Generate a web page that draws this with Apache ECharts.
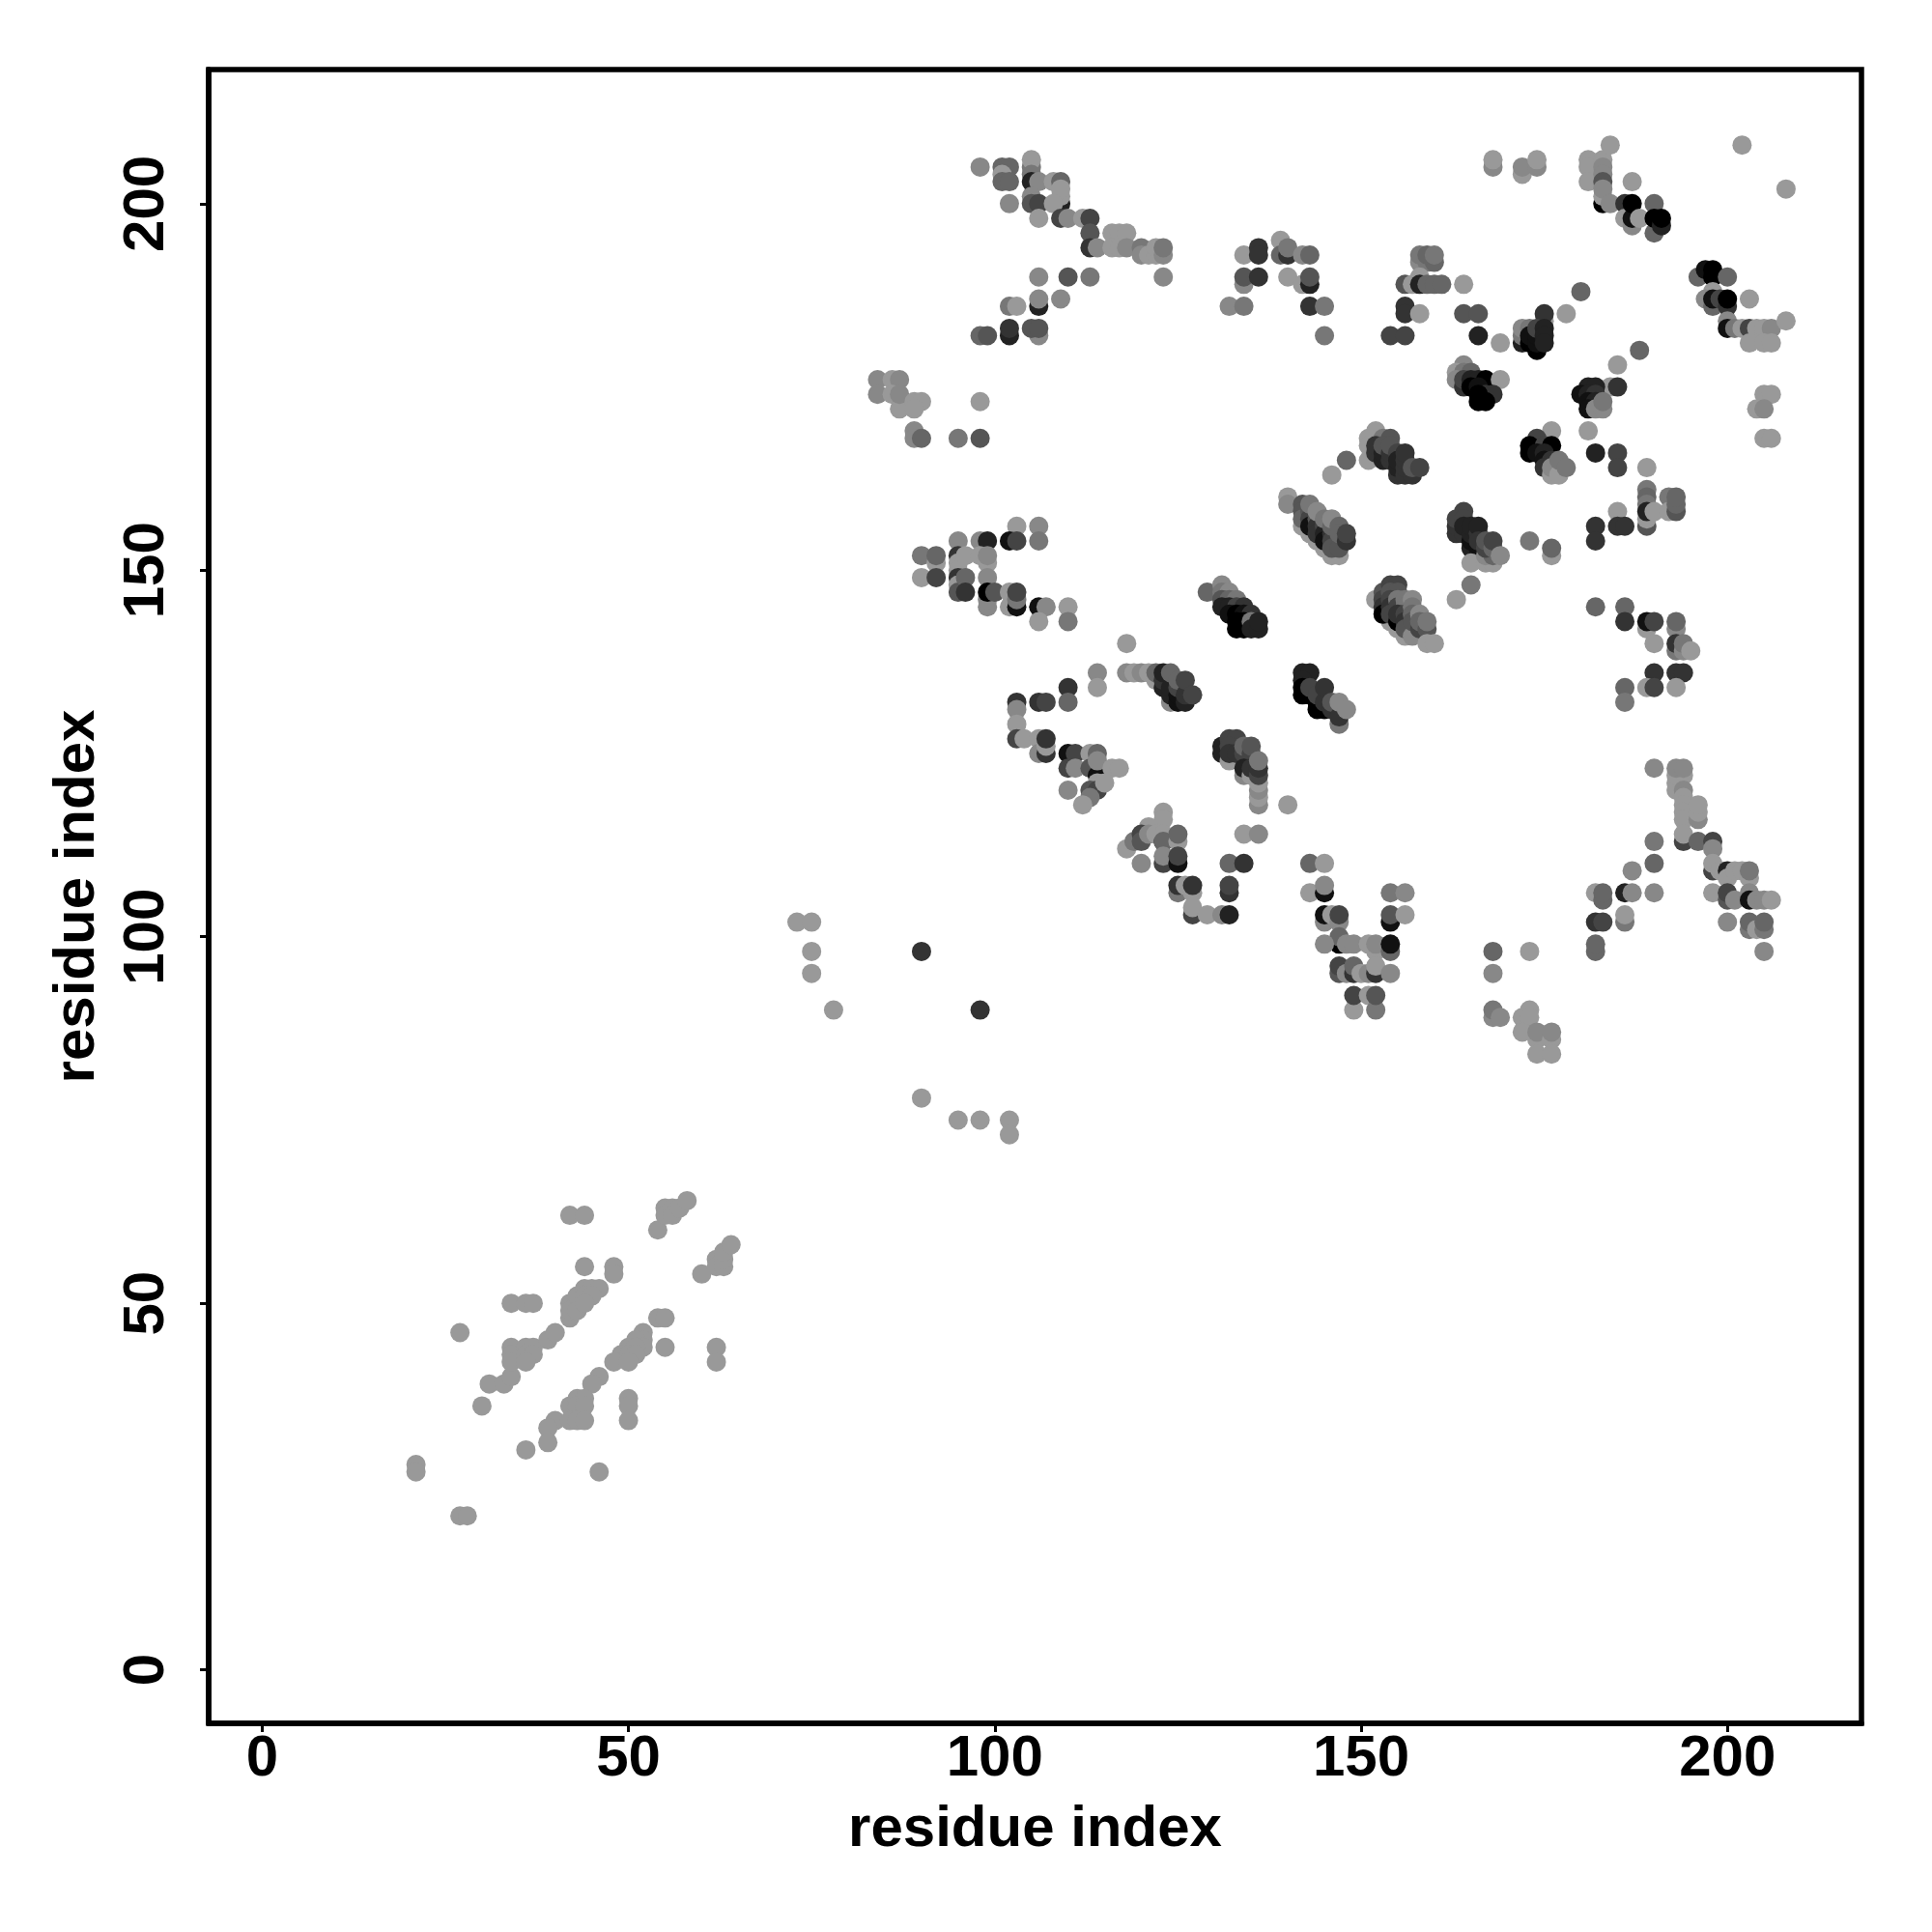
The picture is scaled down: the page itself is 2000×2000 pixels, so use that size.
<!DOCTYPE html>
<html><head><meta charset="utf-8">
<style>html,body{margin:0;padding:0;background:#fff}#c{width:2000px;height:2000px}</style>
<script src="https://cdn.jsdelivr.net/npm/echarts@6/dist/echarts.min.js"></script>
</head><body><div id="c"></div>
<script>
// each contact: [residue i, residue j, darkness level 0 (black) .. 9 (light grey)]
const tickLabels = [0, 50, 100, 150, 200];
const axisName = 'residue index';
const lowSheet = [[21,28,9],[21,27,9],[27,21,9],[28,21,9],[27,46,9],[30,36,9],[31,39,9],[33,39,9],[34,40,9],[34,50,9],[36,50,9],[37,50,9],
[34,44,9],[34,43,9],[34,42,9],[36,44,9],[37,44,9],[36,43,9],[37,43,9],[36,42,9],[39,45,9],[40,46,9],[42,48,9],[42,50,9],[43,50,9],[42,49,9],[43,51,9],[44,52,9],[45,52,9],[46,52,9],[44,51,9],[45,51,9],[43,49,9],[44,50,9],[44,55,9],[48,55,9],[48,54,9],[42,62,9],[44,62,9],
[54,60,9],[55,63,9],[55,62,9],[56,63,9],[56,62,9],[57,63,9],[58,64,9],[60,54,9],[62,56,9],[62,55,9],[63,55,9],[63,56,9],[63,57,9],[64,58,9],[54,48,9],[55,48,9],[55,44,9],[62,44,9],[62,42,9],
[52,46,9],[52,45,9],[51,45,9],[52,44,9],[50,44,9],[51,44,9],[49,43,9],[50,43,9],[51,43,9],[48,42,9],[50,42,9],[46,40,9],[45,39,9],[42,36,9],[43,37,9],[44,37,9],[43,36,9],[44,36,9],[40,34,9],[39,33,9],[39,31,9],[42,34,9],[43,34,9],[44,34,9],[36,30,9],[46,27,9],[50,37,9],[50,36,9],[50,34,9]];
const isolated = [[73,102,9],[75,102,9],[75,98,9],[75,95,9],[78,90,9],[90,98,3],[98,90,3],[90,78,9],[95,75,9],[98,75,9],[102,75,9],[102,73,9]];
const topLeft = [[98,205,8],[101,205,6],[102,205,6],[101,204,9],[101,203,6],[102,203,6],[105,205,7],[105,206,9],[105,204,7],[105,203,2],[106,203,8],[105,201,8],[105,200,5],[106,200,4],[102,200,8],[106,198,9],
[108,203,9],[109,203,6],[109,200,2],[109,201,9],[109,202,9],[108,200,9],[109,198,4],[110,198,8],[112,198,9],[113,198,4],[113,196,5],[113,194,3],[114,194,8],[116,196,9],[117,196,9],[118,196,9],[116,194,9],[117,194,9],[118,194,8],[120,194,7],[120,193,8],[121,193,9],[122,193,9],[122,194,9],[123,193,8],[123,194,7],[123,190,8],
[106,190,8],[110,190,5],[113,190,7],[109,187,8],[106,186,2],[106,187,8],[102,186,7],[103,186,9],[102,182,2],[102,183,3],[98,182,6],[99,182,5],[106,182,8],[105,183,5],[106,183,5],
[84,176,8],[84,174,8],[86,176,9],[87,176,8],[86,174,9],[87,172,9],[87,174,8],[89,173,9],[90,173,9],[89,172,9],[98,173,9],[89,169,8],[89,168,8],[90,168,6],[95,168,7],[98,168,5]];
const topMiddle = [[132,186,8],[134,186,7],[134,193,9],[136,194,3],[136,193,3],[134,189,8],[134,190,5],[136,190,3],[139,195,9],[139,193,6],[140,193,3],[140,194,7],[142,193,8],[143,193,6],[140,190,9],[142,189,9],[143,189,2],[143,190,5],[143,186,3],[145,186,7],[145,182,7],
[158,192,8],[159,192,7],[160,192,6],[158,193,7],[159,193,6],[160,193,7],[158,190,9],[156,189,5],[157,189,9],[158,189,2],[159,189,6],[160,189,6],[161,189,6],[164,189,9],[156,186,3],[156,185,3],[158,185,9],[164,185,5],[166,185,5],[154,182,4],[156,182,4],[166,182,2],[169,181,9],[180,188,6],[178,185,9],
[175,184,9],[175,185,3],[172,181,2],[172,182,7],[172,183,8],[173,183,7],[173,181,0],[174,180,0],[173,182,1],[174,181,1],[174,182,1],[174,183,4],[175,183,2],[175,182,2],[175,181,2]];
const topRight = [[168,205,8],[168,206,9],[172,204,9],[172,205,8],[174,205,8],[174,206,9],[181,206,9],[181,205,9],[181,203,9],[183,206,9],[183,205,8],[183,204,8],[183,203,5],[183,200,0],[183,201,9],[183,202,8],[184,200,8],[184,208,9],[187,203,9],
[186,200,3],[186,198,9],[187,197,8],[187,198,1],[187,200,0],[188,198,9],[190,196,6],[190,200,6],[190,198,0],[191,197,2],[191,198,0],[202,208,9],[208,202,9],
[196,190,6],[197,191,1],[198,191,0],[198,190,0],[200,190,6],[198,188,9],[197,187,8],[198,186,6],[198,187,1],[199,187,4],[200,186,3],[200,187,0],[203,187,9],
[200,184,8],[200,183,1],[201,183,7],[202,183,9],[203,183,4],[204,183,9],[205,183,9],[206,183,8],[208,184,9],[203,181,9],[205,181,9],[206,181,9],[205,174,9],[206,174,9],[204,172,9],[205,172,8],[205,168,9],[206,168,9]];
const blockA = [[164,178,8],[163,177,9],[164,177,7],[165,177,6],[163,176,8],[164,175,3],[164,176,4],[165,176,2],[166,176,2],[167,176,0],[169,176,9],[165,175,0],[166,175,1],[167,174,3],[168,174,3],[166,174,0],[166,173,0],[167,173,0]];
const blockB = [[185,178,9],[188,180,6],[184,175,9],[185,175,3],[181,175,2],[182,175,2],[180,174,1],[181,174,2],[182,174,3],[181,173,1],[182,173,2],[181,172,1],[182,172,8],[183,172,8],[183,173,7]];
const blockC = [[176,169,9],[174,168,4],[173,167,0],[175,167,4],[176,167,0],[173,166,0],[174,166,1],[175,166,2],[175,165,1],[176,165,3],[175,164,3],[176,163,9],[176,164,8],[177,163,9],[177,165,7],[178,164,7],[181,169,9],[182,166,2],[185,166,4],[185,164,4],[189,164,9]];
const rightMiddle = [[189,161,7],[189,160,6],[189,159,7],[189,156,5],[189,157,9],[189,158,2],[190,158,9],[192,160,7],[192,158,9],[193,158,5],[193,159,6],[193,160,6],[185,158,9],[182,156,3],[182,154,3],[185,156,3],[186,156,3],[173,154,7],[176,152,9],[176,153,6],
[182,145,6],[186,145,6],[186,143,3],[189,142,9],[189,143,1],[190,143,4],[190,140,9],[193,142,8],[193,143,6],[193,139,7],[193,140,3],[194,139,8],[194,140,7],[195,139,9],
[190,136,3],[193,136,3],[194,136,3],[189,134,9],[190,134,4],[193,134,9],[186,134,6],[186,132,7]];
const rightLower = [[190,123,8],[193,121,9],[193,120,9],[193,122,9],[194,122,9],[193,123,8],[194,123,8],[194,120,8],[194,119,9],[194,118,9],[194,117,9],[194,116,9],[196,116,8],[196,117,9],[196,118,9],[194,113,4],[194,114,9],[190,113,7],[196,113,6],[198,113,4],[198,112,8],
[198,109,4],[198,110,9],[199,109,9],[200,109,2],[200,108,9],[201,109,9],[202,109,9],[203,108,9],[203,109,7],[198,106,9],[200,105,5],[200,106,4],[201,105,8],[203,106,8],[203,105,1],[204,105,8],[205,105,8],[206,105,9],
[200,102,8],[203,101,7],[203,102,6],[204,101,9],[205,101,7],[205,102,6],[205,98,8],[190,110,6],[187,109,8],[190,106,8],[186,106,2],[187,106,8],[182,106,9],[183,105,6],[183,106,6],[182,102,3],[183,102,4],[186,102,7],[186,103,9],[182,98,6],[182,99,6],
[168,98,6],[173,98,9],[168,95,8],[168,89,8],[168,90,7],[169,89,8],[173,90,9],[172,89,9],[173,89,9],[172,87,9],[174,86,9],[174,87,8],[176,86,9],[176,87,8],[174,84,9],[176,84,9]];
const vShape = [[140,118,9],[143,110,6],[145,110,9],[143,106,9],[145,106,1],[145,107,8],[145,102,8],[145,103,1],[146,103,9],[147,102,8],[147,103,4],[147,99,0],[147,100,6],[145,99,8],[148,99,8],[149,99,8],[151,99,9],[152,98,9],[152,99,8],[154,98,6],[154,99,1],
[147,95,5],[147,96,4],[148,95,8],[149,95,3],[149,96,6],[150,95,9],[151,95,8],[152,95,3],[152,96,9],[154,95,8],[149,90,9],[149,92,4],[151,92,9],[152,90,7],[152,92,5],[154,106,7],[156,106,8],[154,102,1],[154,103,5],[156,103,9]];
const centreLow = [[123,117,9],[123,116,9],[121,115,9],[118,112,9],[119,113,7],[120,114,4],[120,113,5],[121,114,8],[122,114,9],[123,113,2],[123,114,9],[123,113,6],[125,113,9],[125,114,6],[120,110,8],[123,110,4],[123,111,8],[125,110,1],[125,111,4],
[125,106,7],[125,107,3],[126,107,9],[127,106,9],[127,107,3],[127,103,4],[127,104,9],[129,103,9],[131,103,8],[132,103,2],[132,110,6],[134,110,3],[132,106,3],[132,107,4],[134,114,9],[136,114,8]];
const leftMiddle = [[103,156,9],[106,156,8],[106,154,7],[102,154,1],[103,154,4],[98,154,8],[99,154,2],[95,154,8],[90,152,7],[92,151,9],[92,152,6],[90,149,9],[92,149,4],
[95,152,3],[95,151,9],[95,150,9],[95,149,3],[95,148,9],[95,147,5],[96,152,9],[96,149,6],[96,147,3],[98,152,9],[99,151,9],[99,152,8],[99,149,8],[99,145,8],[99,146,8],[99,147,0],[100,147,5],[102,147,9],[102,145,9],[103,145,1],[103,146,7],[103,147,4],[106,145,1],[107,145,8],[106,143,9],[110,145,9],[110,143,7],[118,140,9]];
const centreLeft = [[114,136,8],[114,134,9],[118,136,8],[119,136,9],[120,136,8],[121,136,9],[122,135,9],[122,136,6],[123,134,2],[123,135,3],[123,136,2],[124,132,8],[124,133,2],[124,134,2],[124,136,6],[125,132,1],[125,133,1],[125,134,4],[125,135,6],[126,132,2],[126,133,3],[126,135,4],[127,133,4],
[110,134,3],[110,132,6],[103,132,3],[106,132,3],[107,132,4],[103,131,8],[103,129,9],[103,127,4],[104,127,9],[106,127,9],[106,125,8],[107,125,3],[107,126,9],[107,127,3],
[110,125,1],[111,125,4],[113,125,9],[114,125,6],[110,123,4],[111,123,8],[113,123,5],[114,122,1],[114,124,8],[116,123,9],[117,123,9],[114,121,9],[113,120,5],[114,120,4],[115,121,9],[113,119,7],[110,120,8],[112,118,9]];
const diagTop = [[152,169,9],[151,168,9],[151,167,9],[153,168,7],[154,168,5],[151,165,9],[152,166,3],[152,167,3],[153,165,2],[153,166,2],[153,167,5],[154,165,3],[154,166,3],[154,167,5],[155,166,4],[155,163,3],[155,164,2],[155,165,2],[156,163,3],[156,164,3],[156,165,3],[156,166,3],[157,163,3],[157,164,5],[158,164,4],[148,165,6],[146,163,9]];
const diagLeft = [[140,160,9],[140,159,8],[142,156,9],[143,155,9],[144,154,9],[145,153,9],[146,152,9],[147,152,9],[142,159,5],[142,158,5],[142,157,6],[143,158,5],[143,157,4],[143,156,1],[144,157,5],[144,156,3],[144,155,3],[145,156,4],[145,155,2],[145,154,1],[146,155,3],[146,154,4],[147,154,5],[143,159,7],[144,158,8],[145,157,7],[146,156,6],[146,157,8],[146,153,5],[147,153,5],[147,156,6],[147,155,6],[148,154,3],[148,155,4]];
const diagMiddle = [[164,158,4],[163,155,3],[163,156,3],[163,157,4],[164,155,3],[164,157,4],[164,156,2],[165,153,2],[165,154,1],[165,155,2],[165,156,2],[166,155,3],[166,156,2],[166,153,1],[166,154,3],[165,151,9],[167,151,9],[168,151,9],[167,152,8],[168,152,6],[167,153,4],[167,154,5],[168,153,6],[168,154,4],[169,152,8]];
const diagLow = [[152,146,9],[153,144,9],[154,143,9],[155,142,9],[156,141,9],[153,147,5],[153,146,4],[153,145,3],[154,148,4],[155,148,4],[154,147,5],[155,147,5],[154,146,4],[153,144,0],[154,145,3],[154,144,4],[155,143,0],[155,146,7],[155,145,4],[156,146,7],[156,145,7],[157,146,8],[155,144,3],[156,144,4],[156,143,3],[156,142,5],[157,145,7],[157,144,6],[157,141,8],[157,143,5],[158,144,8],[158,142,4],[158,143,6],[159,142,5],[159,143,7],[159,140,9],[160,140,9],[163,146,9],[165,148,7]];
const diagCentre = [[129,147,6],[131,148,8],[131,147,7],[132,147,8],[131,146,5],[132,146,6],[133,146,7],[131,145,2],[132,145,2],[133,145,4],[134,145,3],[132,144,1],[133,144,0],[134,144,1],[135,144,3],[133,143,0],[134,143,0],[133,142,0],[134,142,0],[135,143,7],[135,142,2],[136,142,2],[136,143,2],
[131,126,2],[131,125,2],[132,124,9],[132,127,4],[133,127,4],[132,126,4],[132,125,3],[133,125,3],[134,125,4],[134,126,6],[135,125,4],[135,126,5],[134,122,8],[134,123,2],[135,122,9],[135,123,3],[136,118,8],[136,119,9],[136,120,8],[136,121,9],[136,122,4],[136,123,3],[136,124,7]];
const diagCore = [[142,136,2],[143,136,2],[142,135,2],[142,134,0],[142,133,0],[143,133,0],[143,134,4],[144,131,0],[144,132,0],[144,133,4],[145,131,0],[145,132,3],[145,134,3],[146,131,3],[146,132,5],[147,129,7],[147,130,3],[147,132,8],[148,131,8]];

const contacts = [].concat(lowSheet, isolated, topLeft, topMiddle, topRight, blockA, blockB, blockC, rightMiddle, rightLower, vShape, centreLow, leftMiddle, centreLeft, diagTop, diagLeft, diagMiddle, diagLow, diagCentre, diagCore);
const grey = l => { const v = l * 17; return `rgb(${v},${v},${v})`; };
const font = {fontFamily: '"Liberation Sans", Arial, sans-serif', fontWeight: 'bold', fontSize: 60, color: '#000'};
const chart = echarts.init(document.getElementById('c'), null, {renderer: 'canvas'});
const axisBase = {
  type: 'value', min: -7.3, max: 218.3,
  name: axisName, nameLocation: 'middle',
  nameTextStyle: font, splitLine: {show: false},
  axisLine: {show: true, onZero: false, lineStyle: {color: '#000', width: 5.5}},
  axisTick: {show: true, length: 9, lineStyle: {color: '#000', width: 3}, customValues: tickLabels},
};
chart.setOption({
  animation: false,
  backgroundColor: '#fff',
  grid: {left: 216, right: 2000 - 1927, top: 72, bottom: 2000 - 1784, show: true, borderColor: '#000', borderWidth: 5.5, backgroundColor: 'transparent'},
  xAxis: Object.assign({}, axisBase, {nameGap: 80, axisLabel: Object.assign({}, font, {margin: 7, customValues: tickLabels, formatter: v => String(v), hideOverlap: false})}),
  yAxis: Object.assign({}, axisBase, {nameGap: 106, axisLabel: Object.assign({}, font, {rotate: 90, margin: 34, customValues: tickLabels, formatter: v => String(v), hideOverlap: false, align: 'center', verticalAlign: 'bottom'})}),
  series: [{
    type: 'scatter', symbol: 'circle', symbolSize: 20, clip: true, large: false,
    data: contacts.map(c => ({value: [c[0], c[1]], itemStyle: {color: grey(c[2]), opacity: 1}})),
    emphasis: {disabled: true}
  }]
});
</script></body></html>
